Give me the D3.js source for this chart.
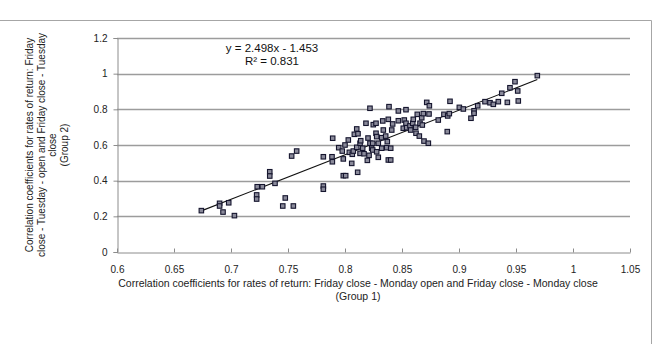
<!DOCTYPE html>
<html><head><meta charset="utf-8">
<script src="https://cdn.jsdelivr.net/npm/d3@7"></script>
<style>
html,body{margin:0;padding:0;background:#fff;}
svg{display:block;font-family:"Liberation Sans",Arial,sans-serif;}
</style></head>
<body>
<svg id="c" width="654" height="344"></svg>
<script>
// Group 1 (x) correlation coefficients
const xValues = [0.674,0.690,0.690,0.693,0.698,0.703,0.7225,0.7225,0.723,0.7275,0.734,0.734,0.7386,0.7454,0.7476,0.7547,0.7532,0.7576,
0.781,0.781,0.781,0.7886,0.7889,0.7892,0.7945,0.7976,0.7985,0.7985,0.8006,0.800,0.8029,0.8038,0.8059,0.8064,0.8073,0.8082,0.8103,0.8103,
0.8111,0.8114,0.8132,0.8132,0.8138,0.8155,0.8167,0.8184,0.8196,0.8202,0.8211,0.8219,0.8219,0.8234,0.8248,0.8243,0.8243,0.8272,0.8272,
0.8278,0.8278,0.8292,0.8292,0.8322,0.8322,0.8331,0.8336,0.8357,0.8366,0.8371,0.838,0.838,0.8386,0.8401,0.8401,0.841,0.8418,0.8468,0.8468,
0.8511,0.852,0.8535,0.8535,0.8541,0.857,0.8576,0.8594,0.8599,0.862,0.8623,0.8634,0.8652,0.8658,0.8673,0.8678,0.8687,0.8693,0.8717,0.8731,
0.8737,0.874,0.8818,0.8868,0.8897,0.8901,0.8915,0.8921,0.9003,0.9038,0.9105,0.9132,0.9132,0.9164,0.9228,0.9272,0.9301,0.9345,0.9375,
0.9424,0.9447,0.9491,0.9515,0.952,0.9687];
// Group 2 (y) correlation coefficients
const yValues = [0.232,0.273,0.258,0.224,0.276,0.204,0.320,0.297,0.366,0.366,0.450,0.426,0.385,0.258,0.303,0.258,0.538,0.566,
0.370,0.352,0.534,0.534,0.506,0.638,0.585,0.566,0.522,0.428,0.428,0.600,0.628,0.559,0.497,0.548,0.566,0.660,0.690,0.587,
0.447,0.663,0.610,0.553,0.624,0.582,0.551,0.722,0.514,0.639,0.542,0.806,0.610,0.582,0.714,0.610,0.572,0.722,0.666,
0.647,0.562,0.610,0.531,0.641,0.582,0.735,0.684,0.650,0.585,0.619,0.744,0.516,0.815,0.516,0.582,0.684,0.718,0.791,0.736,
0.694,0.740,0.798,0.722,0.697,0.707,0.684,0.722,0.744,0.699,0.666,0.772,0.650,0.722,0.753,0.712,0.776,0.622,0.839,0.610,
0.774,0.820,0.740,0.772,0.675,0.763,0.776,0.845,0.811,0.802,0.750,0.792,0.778,0.820,0.843,0.837,0.828,0.843,0.890,
0.839,0.921,0.955,0.903,0.847,0.989];
const xTicks = [0.6,0.65,0.7,0.75,0.8,0.85,0.9,0.95,1,1.05];
const yTicks = [0,0.2,0.4,0.6,0.8,1,1.2];
const xTickLabels = ["0.6","0.65","0.7","0.75","0.8","0.85","0.9","0.95","1","1.05"];
const yTickLabels = ["0","0.2","0.4","0.6","0.8","1","1.2"];
const trendSlope = 2.498, trendIntercept = -1.453;
const equationLines = ["y = 2.498x - 1.453", "R² = 0.831"];
const xTitleLines = ["Correlation coefficients for rates of return: Friday close - Monday open and Friday close - Monday close","(Group 1)"];
const yTitleLines = ["Correlation coefficients for rates of return: Friday","close - Tuesday - open and Friday close - Tuesday","close","(Group 2)"];

const svg = d3.select("#c");
const L = 117, R = 630, T = 38, B = 252;
const x = d3.scaleLinear().domain([0.6,1.05]).range([L,R]);
const y = d3.scaleLinear().domain([0,1.2]).range([B,T]);
const FONT = "Liberation Sans, Arial, sans-serif";

// chart border
svg.append("path").attr("d","M0,20.5H651.5V344").attr("fill","none").attr("stroke","#a6a6a6").attr("stroke-width",1);

// gridlines
svg.append("g").selectAll("line").data(yTicks.filter(d=>d>0)).join("line")
  .attr("x1",L).attr("x2",R).attr("y1",d=>Math.round(y(d))+0.5).attr("y2",d=>Math.round(y(d))+0.5)
  .attr("stroke","#9c9c9c").attr("stroke-width",1.3);

// y axis
const yAxis = d3.axisLeft(y).tickValues(yTicks).tickFormat((d,i)=>yTickLabels[i]).tickSize(4).tickPadding(6);
const gy = svg.append("g").attr("transform",`translate(${L+0.5},0)`).call(yAxis);
gy.select(".domain").attr("stroke","#8c8c8c");
gy.selectAll(".tick line").attr("stroke","#8c8c8c");
gy.selectAll(".tick text").attr("font-size","10px").attr("fill","#222").attr("font-family",FONT);

// x axis (ticks inside)
const xAxis = d3.axisBottom(x).tickValues(xTicks).tickFormat((d,i)=>xTickLabels[i]).tickSizeInner(-4).tickSizeOuter(0).tickPadding(13);
const gx = svg.append("g").attr("transform",`translate(0,${B+0.5})`).call(xAxis);
gx.select(".domain").attr("stroke","#8c8c8c");
gx.selectAll(".tick line").attr("stroke","#8c8c8c");
gx.selectAll(".tick text").attr("font-size","10px").attr("fill","#222").attr("font-family",FONT);

// trend line
const xExt = d3.extent(xValues);
svg.append("line")
  .attr("x1",x(xExt[0])).attr("y1",y(trendSlope*xExt[0]+trendIntercept))
  .attr("x2",x(xExt[1])).attr("y2",y(trendSlope*xExt[1]+trendIntercept))
  .attr("stroke","#111").attr("stroke-width",1.1);

// points
const pts = xValues.map((v,i)=>[v,yValues[i]]);
const s = 4.5;
svg.append("g").selectAll("rect").data(pts).join("rect")
  .attr("x",d=>x(d[0])-s/2).attr("y",d=>y(d[1])-s/2).attr("width",s).attr("height",s)
  .attr("fill","#8a8a9a").attr("stroke","#15152e").attr("stroke-width",1.1);

// equation
svg.append("g").selectAll("text").data(equationLines).join("text")
  .attr("x",272).attr("y",(d,i)=>52+i*13).attr("text-anchor","middle")
  .attr("font-size","11.5px").attr("fill","#111").text(d=>d);

// x title
svg.append("g").selectAll("text").data(xTitleLines).join("text")
  .attr("x",358).attr("y",(d,i)=>287+i*12.5).attr("text-anchor","middle")
  .attr("font-size","10.5px").attr("fill","#222").text(d=>d);

// y title
const yt = svg.append("g").attr("transform","translate(0,145) rotate(-90)");
yt.selectAll("text").data(yTitleLines).join("text")
  .attr("x",0).attr("y",(d,i)=>33+i*11.5).attr("text-anchor","middle")
  .attr("font-size","10px").attr("fill","#222").text(d=>d);
</script>
</body></html>
